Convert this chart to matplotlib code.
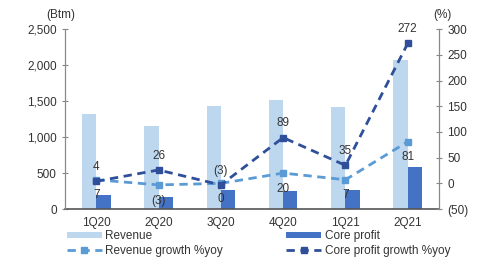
import matplotlib
matplotlib.use("Agg")
import matplotlib.pyplot as plt
import numpy as np

categories = ["1Q20", "2Q20", "3Q20", "4Q20", "1Q21", "2Q21"]
revenue = [1319, 1153, 1430, 1514, 1417, 2069]
core_profit = [194, 167, 262, 250, 260, 583]
revenue_growth = [7, -3, 0, 20, 7, 81]
core_growth = [4, 26, -3, 89, 35, 272]
left_ticks = [0, 500, 1000, 1500, 2000, 2500]
right_ticks = [-50, 0, 50, 100, 150, 200, 250, 300]

def fmt_pct(v):
    return f"({abs(v)})" if v < 0 else f"{v}"

plt.rcParams['font.family'] = ['Liberation Sans', 'DejaVu Sans']
plt.rcParams['font.size'] = 8.5

c_rev = "#BDD7EE"
c_core = "#4472C4"
c_rg = "#5B9BD5"
c_cg = "#2F4F9A"
txt = "#333333"

fig = plt.figure(figsize=(4.86, 2.62), dpi=100)
ax = fig.add_axes([0.134, 0.202, 0.769, 0.687])
ax2 = ax.twinx()

x = np.arange(len(categories))
w = 0.23
b1 = ax.bar(x - w / 2, revenue, w, color=c_rev, label="Revenue", zorder=1)
b2 = ax.bar(x + w / 2, core_profit, w, color=c_core, label="Core profit", zorder=1)

ax.set_xlim(-0.5, 5.5)
ax.set_ylim(0, 2500)
ax.set_yticks(left_ticks)
ax.set_yticklabels([f"{v:,}" for v in left_ticks])
ax.set_xticks(x)
ax.set_xticklabels(categories)

ax2.set_ylim(-50, 300)
ax2.set_yticks(right_ticks)
ax2.set_yticklabels([fmt_pct(v) for v in right_ticks])

l1, = ax2.plot(x, revenue_growth, color=c_rg, lw=2, ls=(0, (3, 2)), marker="s", ms=5,
               label="Revenue growth %yoy", zorder=3)
l2, = ax2.plot(x, core_growth, color=c_cg, lw=2, ls=(0, (3, 2)), marker="s", ms=5,
               label="Core profit growth %yoy", zorder=4)

for xi, v in zip(x, core_growth):
    ax2.annotate(fmt_pct(v), (xi, v), xytext=(0, 6), textcoords="offset points",
                 ha="center", va="bottom", color=txt)
for xi, v in zip(x, revenue_growth):
    ax2.annotate(fmt_pct(v), (xi, v), xytext=(0, -7), textcoords="offset points",
                 ha="center", va="top", color=txt)

for a in (ax, ax2):
    a.spines["top"].set_visible(False)
    a.spines["left"].set_color("#888888")
    a.spines["right"].set_color("#888888")
    a.spines["bottom"].set_visible(False)
    a.tick_params(axis="y", direction="inout", length=5, color="#888888", colors=txt)
ax.spines["bottom"].set_visible(True)
ax.spines["bottom"].set_color("#555555")
ax.spines["bottom"].set_linewidth(1.2)
ax.tick_params(axis="x", length=0, pad=6, colors=txt)
ax.set_zorder(ax2.get_zorder() - 1)
ax.patch.set_visible(True)
ax2.patch.set_visible(False)

fig.text(0.126, 0.943, "(Btm)", ha="center", va="center", color=txt)
fig.text(0.91, 0.943, "(%)", ha="center", va="center", color=txt)

fig.legend([b1, l1, b2, l2], ["Revenue", "Revenue growth %yoy", "Core profit", "Core profit growth %yoy"],
           ncol=2, loc="lower left", bbox_to_anchor=(0.115, -0.02), frameon=False,
           handlelength=3.0, handleheight=0.5, handletextpad=0.3, columnspacing=5.3,
           labelspacing=0.2, labelcolor=txt)

fig.savefig("out.png", dpi=100)
